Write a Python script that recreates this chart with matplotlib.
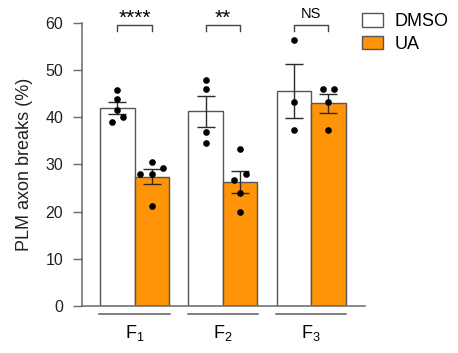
import numpy as np
import matplotlib.pyplot as plt

plt.rcParams['font.family'] = ['Liberation Sans', 'DejaVu Sans']
plt.rcParams['mathtext.fontset'] = 'custom'
plt.rcParams['mathtext.rm'] = 'Liberation Sans'
plt.rcParams['mathtext.default'] = 'regular'

# data
groups = ['F$_1$', 'F$_2$', 'F$_3$']
dmso_mean = [42.0, 41.3, 45.6]
dmso_sem = [1.3, 3.3, 5.7]
ua_mean = [27.4, 26.3, 43.0]
ua_sem = [1.6, 2.3, 2.0]
dmso_points = [[45.7, 43.8, 41.6, 40.0, 39.1],
               [47.9, 46.0, 36.8, 34.6],
               [56.4, 43.2, 37.4]]
ua_points = [[30.6, 29.2, 27.9, 27.9, 21.3],
             [33.2, 28.0, 26.7, 23.9, 19.9],
             [46.0, 45.9, 43.2, 37.4]]
signif = ['****', '**', 'NS']

ORANGE = '#FF9408'
EDGE = '#555555'
GREY = '#6a6a6a'


def swarm(vals, step=0.13, gap=1.35):
    # simple side-by-side spreading for points with close values
    vals = np.asarray(vals)
    order = np.argsort(vals, kind='stable')
    rows = []
    for i in order:
        if rows and vals[i] - vals[rows[-1][-1]] < gap:
            rows[-1].append(i)
        else:
            rows.append([i])
    offs = np.zeros(len(vals))
    for row in rows:
        n = len(row)
        for k, i in enumerate(row):
            offs[i] = (k - (n - 1) / 2) * step
    return offs


fig = plt.figure(figsize=(4.58, 3.53), dpi=100)
ax = fig.add_axes([0.179, 0.133, 0.618, 0.802])

x = np.arange(len(groups))
w = 0.39

ax.bar(x - w / 2, dmso_mean, w, color='white', edgecolor=EDGE, linewidth=1, label='DMSO', zorder=2)
ax.bar(x + w / 2, ua_mean, w, color=ORANGE, edgecolor=EDGE, linewidth=1, label='UA', zorder=2)

for xs, m, s in [(x - w / 2, dmso_mean, dmso_sem), (x + w / 2, ua_mean, ua_sem)]:
    ax.errorbar(xs, m, yerr=s, fmt='none', ecolor='#2a2a2a', elinewidth=1,
                capsize=6.5, capthick=1, zorder=3)

for i in range(len(groups)):
    for xc, pts in [(x[i] - w / 2, dmso_points[i]), (x[i] + w / 2, ua_points[i])]:
        ax.plot(xc + swarm(pts), pts, 'o', color='black', ms=4.8, mew=0, zorder=4)

# significance brackets
for i, lab in enumerate(signif):
    x0, x1 = x[i] - w / 2, x[i] + w / 2
    ax.plot([x0, x0, x1, x1], [58.3, 59.5, 59.5, 58.3], color='#444444', lw=1, clip_on=False)
    if lab == 'NS':
        ax.text(x[i], 61.8, lab, ha='center', va='center', fontsize=10.5, clip_on=False)
    else:
        ax.text(x[i], 61.0, lab, ha='center', va='center', fontsize=15, clip_on=False)

# group underlines and labels
for i, g in enumerate(groups):
    ax.plot([x[i] - 0.4, x[i] + 0.4], [-1.7, -1.7], color=GREY, lw=1.2, clip_on=False)
    ax.text(x[i], -5.8, g, ha='center', va='center', fontsize=13)

ax.set_xlim(-0.595, 2.61)
ax.set_ylim(0, 60)
ax.set_yticks(range(0, 61, 10))
ax.set_xticks([])
ax.tick_params(axis='y', length=6.5, width=1, color=GREY, pad=7, labelsize=11.5, labelcolor='#222222')
for side in ['top', 'right']:
    ax.spines[side].set_visible(False)
for side in ['left', 'bottom']:
    ax.spines[side].set_color(GREY)
    ax.spines[side].set_linewidth(1.1)

ax.set_ylabel('PLM axon breaks (%)', fontsize=13, labelpad=9, color='#222222')

fig.legend(loc='upper left', bbox_to_anchor=(0.79, 0.962), frameon=False, fontsize=13,
           handlelength=1.2, handleheight=0.78, handletextpad=0.6, labelspacing=0.3,
           borderpad=0, borderaxespad=0)

fig.savefig('out.png', dpi=100)
